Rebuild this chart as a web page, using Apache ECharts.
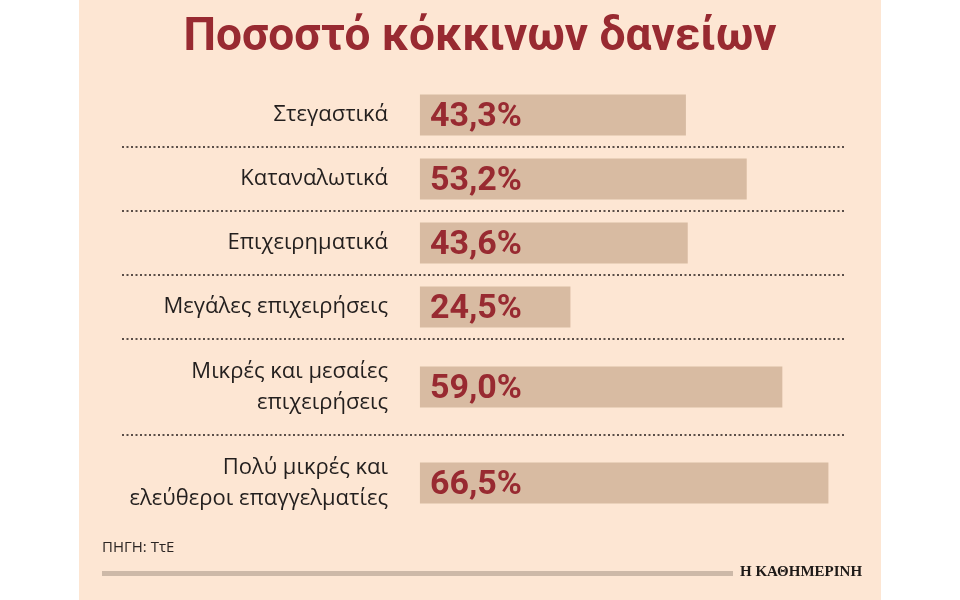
<!DOCTYPE html>
<html>
<head>
<meta charset="utf-8">
<script src="https://cdn.jsdelivr.net/npm/echarts@6/dist/echarts.min.js"></script>
<style>
  html, body { margin: 0; padding: 0; background: #fff; }
  #chart { width: 960px; height: 600px; }
</style>
</head>
<body>
<div id="chart"></div>
<script>
// data
const categories = [
  'Στεγαστικά',
  'Καταναλωτικά',
  'Επιχειρηματικά',
  'Μεγάλες επιχειρήσεις',
  'Μικρές και μεσαίες\nεπιχειρήσεις',
  'Πολύ μικρές και\nελεύθεροι επαγγελματίες'
];
const values = [43.3, 53.2, 43.6, 24.5, 59.0, 66.5];

const titleText = 'Ποσοστό κόκκινων δανείων';
const sourceText = 'ΠΗΓΗ: ΤτΕ';
const brandText = 'Η ΚΑΘΗΜΕΡΙΝΗ';

// rows with two-line labels are taller: split the axis into slots
// (4 slots per single-line row, 2 more per extra line)
const slotNames = [];
const centers = [];
const borders = [];
let pos = 0;
categories.forEach((c, i) => {
  const lines = c.split('\n').length;
  const size = 4 + 2 * (lines - 1);
  if (i > 0) borders.push(pos);
  centers.push(pos + size / 2);
  pos += size;
});
for (let k = 0; k <= pos; k++) slotNames.push('s' + k);

const barData = slotNames.map(() => '-');
const labelBySlot = {};
centers.forEach((k, i) => {
  barData[k] = values[i];
  labelBySlot['s' + k] = categories[i];
});

const chart = echarts.init(document.getElementById('chart'));

chart.setOption({
  backgroundColor: '#ffffff',
  animation: false,
  title: {
    text: titleText,
    left: 'center',
    top: 10,
    textStyle: {
      fontFamily: 'Roboto, sans-serif',
      fontWeight: 'bold',
      fontSize: 46,
      color: '#982a31'
    }
  },
  graphic: [
    {
      type: 'rect',
      z: -10,
      silent: true,
      shape: { x: 79, y: 0, width: 802, height: 600 },
      style: { fill: '#fde6d3' }
    },
    {
      type: 'text',
      left: 102,
      top: 540,
      style: {
        text: sourceText,
        fontFamily: '"Open Sans", sans-serif',
        fontSize: 15,
        fill: '#2b2523'
      }
    },
    {
      type: 'rect',
      silent: true,
      shape: { x: 102, y: 571, width: 631, height: 5 },
      style: { fill: '#cdb9a8' }
    },
    {
      type: 'text',
      left: 740,
      top: 565,
      style: {
        text: brandText,
        fontFamily: '"Liberation Serif", serif',
        fontWeight: 'bold',
        fontSize: 15,
        fill: '#1e1a18'
      }
    }
  ],
  grid: {
    left: 122,
    right: 115,
    top: 83,
    bottom: 69,
    containLabel: false
  },
  xAxis: {
    type: 'value',
    min: -48.5,
    max: 69.2,
    show: false
  },
  yAxis: {
    type: 'category',
    inverse: true,
    boundaryGap: false,
    data: slotNames,
    axisLine: { show: false },
    axisTick: { show: false },
    splitLine: { show: false },
    axisLabel: {
      interval: 0,
      margin: -266,
      align: 'right',
      fontFamily: '"Open Sans", sans-serif',
      fontSize: 22,
      lineHeight: 31,
      color: '#231f1e',
      formatter: (v) => labelBySlot[v] || ''
    }
  },
  series: [
    {
      type: 'bar',
      data: barData,
      barWidth: 41,
      itemStyle: { color: '#d8bba2' },
      label: {
        show: true,
        position: 'insideLeft',
        distance: 10,
        offset: [0, 2],
        fontFamily: 'Roboto, sans-serif',
        fontWeight: 'bold',
        fontSize: 34,
        color: '#982a31',
        formatter: (p) => p.value.toFixed(1).replace('.', ',') + '%'
      },
      markLine: {
        silent: true,
        symbol: 'none',
        label: { show: false },
        lineStyle: { type: [2, 2.5], width: 2, color: '#5a4e48' },
        data: borders.map((b) => ({ yAxis: 's' + b }))
      }
    }
  ]
});
</script>
</body>
</html>
